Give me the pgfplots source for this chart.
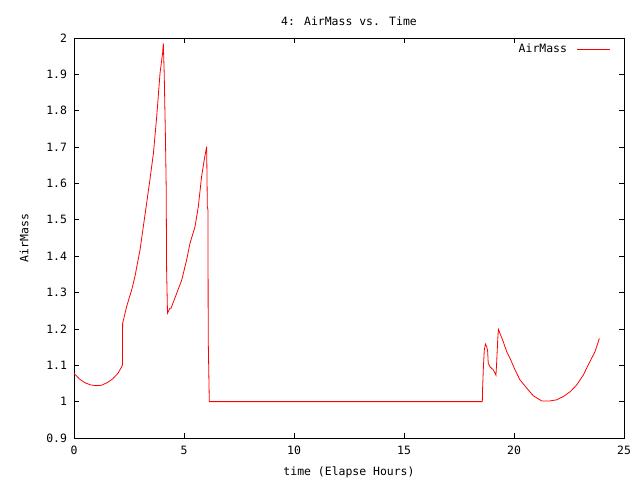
\documentclass[border=0pt]{standalone}
\usepackage{pgfplots}
\pgfplotsset{compat=1.18}
\usepackage{fontspec}
\setmainfont{DejaVu Sans Mono}
\begin{document}
\fontsize{11.5}{13}\selectfont
\begin{tikzpicture}
\path[use as bounding box] (0,0) rectangle (640bp,480bp);
\begin{axis}[
  at={(74bp,42bp)}, anchor=south west,
  scale only axis, width=550bp, height=400bp,
  xmin=0, xmax=25, ymin=0.9, ymax=2,
  xtick={0,5,...,25},
  ytick={0.9,1,1.1,1.2,1.3,1.4,1.5,1.6,1.7,1.8,1.9,2},
  yticklabels={0.9,1,1.1,1.2,1.3,1.4,1.5,1.6,1.7,1.8,1.9,2},
  tick align=inside, major tick length=5bp,
  tick style={black, line width=0.8bp},
  axis line style={line width=0.8bp},
  /pgf/number format/assume math mode=true,
  ticklabel style={font=\fontsize{11.5}{13}\selectfont},
  xticklabel style={yshift=-4bp},
  yticklabel style={xshift=-3bp},
  xlabel={time (Elapse Hours)},
  xlabel style={yshift=-4bp},
  ylabel={AirMass},
  ylabel style={yshift=10bp},
  title={4: AirMass vs. Time},
  title style={yshift=2bp},
  legend style={draw=none, fill=none, at={(1,1)}, anchor=north east,
    xshift=-10bp, yshift=-2bp, legend cell align=right},
  legend plot pos=right,
  legend image code/.code={\draw[#1] (0bp,0bp) -- (33bp,0bp);},
]
\addplot[red, line width=0.8bp, sharp plot] table {
x y
0 1.078
0.25 1.062
0.5 1.052
0.75 1.046
1.0 1.044
1.25 1.045
1.5 1.052
1.75 1.062
2.0 1.078
2.15 1.094
2.2 1.100
2.21 1.215
2.39 1.261
2.62 1.307
2.77 1.344
3.0 1.417
3.15 1.481
3.30 1.545
3.45 1.610
3.61 1.683
3.76 1.784
3.91 1.903
4.03 1.960
4.06 1.985
4.10 1.903
4.15 1.747
4.17 1.674
4.19 1.591
4.21 1.362
4.25 1.243
4.36 1.257
4.41 1.257
4.67 1.298
4.90 1.335
5.12 1.390
5.27 1.435
5.50 1.481
5.65 1.536
5.80 1.619
5.92 1.665
6.03 1.701
6.06 1.536
6.09 1.527
6.10 1.176
6.15 1.000
18.56 1.000
18.57 1.032
18.61 1.096
18.65 1.142
18.70 1.158
18.76 1.151
18.80 1.140
18.83 1.105
18.91 1.096
19.06 1.087
19.18 1.073
19.21 1.105
19.26 1.170
19.29 1.199
19.36 1.188
19.51 1.165
19.67 1.137
19.82 1.119
20.05 1.087
20.27 1.060
20.58 1.037
20.88 1.016
21.26 1.002
21.64 1.002
21.94 1.005
22.24 1.014
22.55 1.027
22.85 1.046
23.15 1.073
23.45 1.110
23.68 1.137
23.88 1.174
};
\addlegendentry{AirMass\rule{8bp}{0pt}}
\end{axis}
\end{tikzpicture}
\end{document}
